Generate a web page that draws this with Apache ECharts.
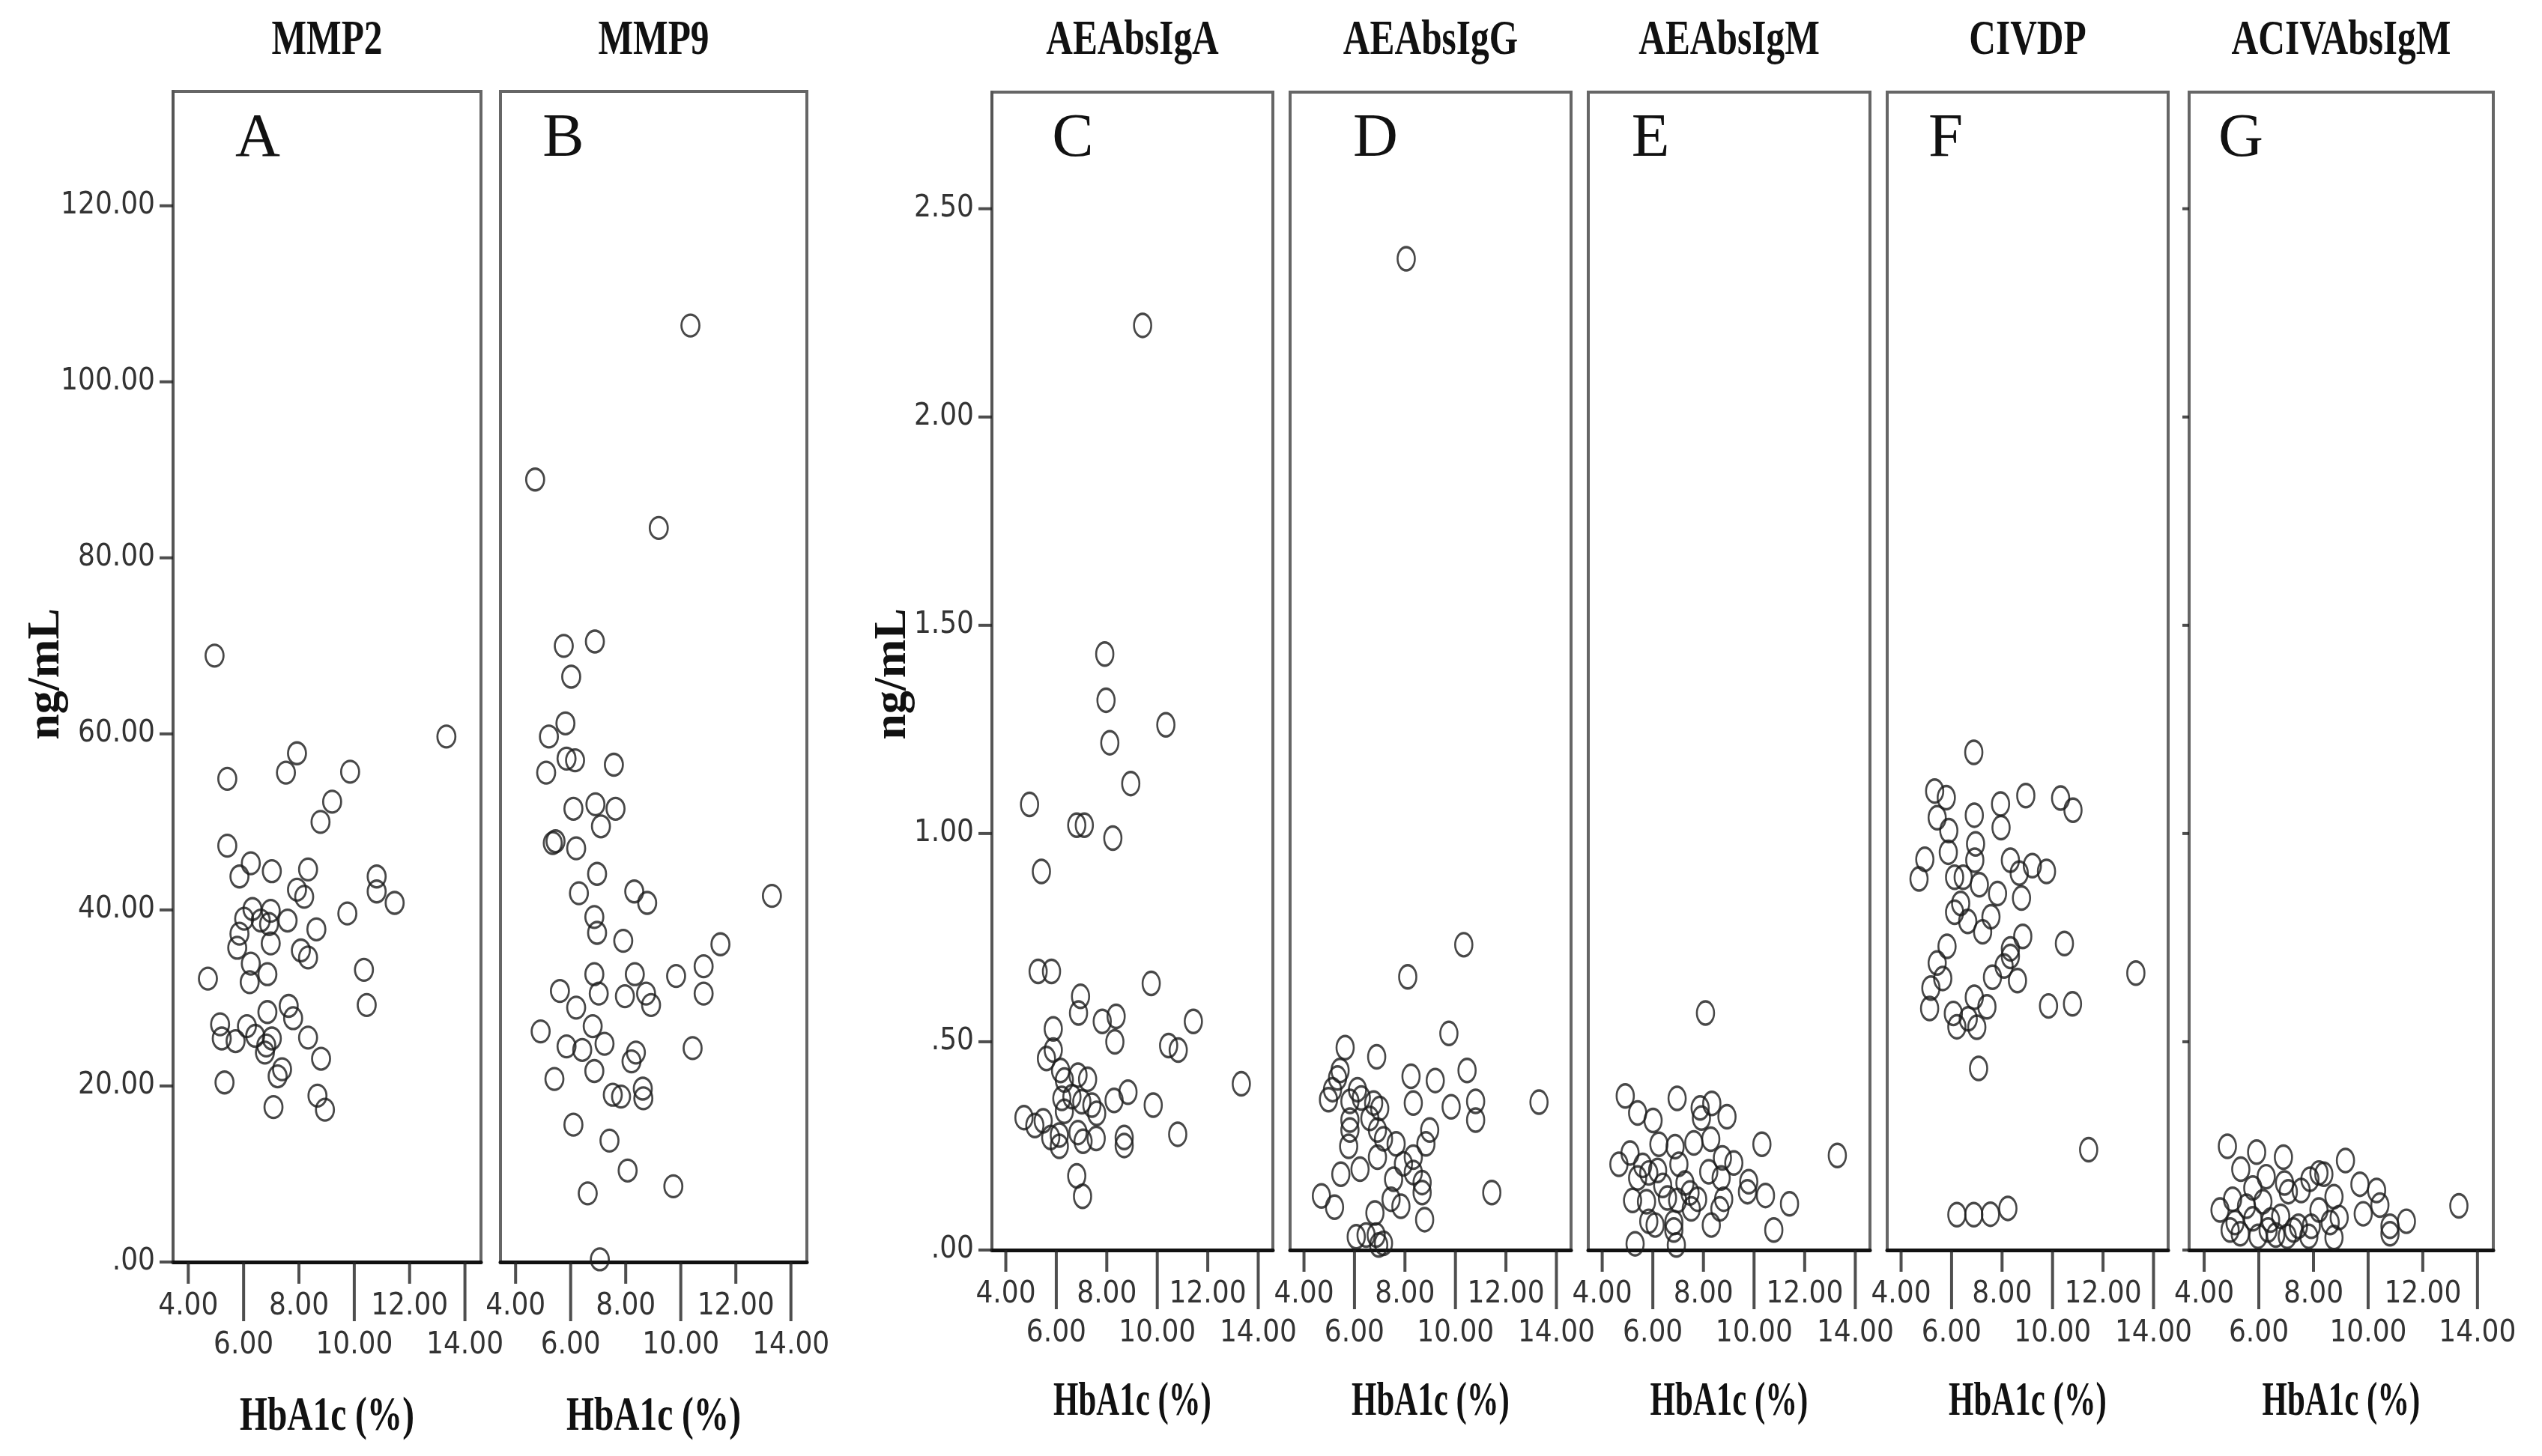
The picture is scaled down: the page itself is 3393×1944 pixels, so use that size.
<!DOCTYPE html>
<html>
<head>
<meta charset="utf-8">
<title>HbA1c scatter panels</title>
<script src="https://cdn.jsdelivr.net/npm/echarts@6/dist/echarts.min.js"></script>
<style>
html, body { margin: 0; padding: 0; background: #fff; }
#chart { width: 3393px; height: 1944px; }
</style>
</head>
<body>
<div id="chart"></div>
<script>
// tick values
var xTicksUpper = [4, 8, 12];
var xTicksLower = [6, 10, 14];
var yTicksMmp = [0, 20, 40, 60, 80, 100, 120];
var yTicksAb = [0, 0.5, 1, 1.5, 2, 2.5];

// [HbA1c, ng/mL]
var mmp2 = [[4.95,68.9],[13.33,59.7],[5.41,54.9],[7.93,57.8],[7.53,55.6],[9.85,55.7],[9.2,52.3],[8.78,50.0],[5.41,47.3],[6.26,45.3],[5.85,43.8],[7.02,44.4],[8.33,44.6],[7.93,42.3],[8.19,41.5],[10.81,43.8],[10.81,42.1],[11.46,40.8],[9.75,39.6],[6.32,40.1],[6.02,39.0],[6.62,38.8],[6.98,39.9],[6.92,38.4],[7.59,38.8],[5.85,37.3],[5.77,35.7],[6.98,36.2],[8.63,37.8],[8.07,35.4],[8.33,34.6],[6.26,33.9],[6.22,31.8],[6.86,32.7],[4.71,32.2],[10.35,33.2],[10.45,29.2],[7.63,29.1],[7.79,27.7],[6.86,28.4],[5.15,27.0],[5.21,25.4],[5.71,25.1],[6.12,26.8],[6.42,25.7],[6.82,24.6],[7.02,25.4],[6.77,23.8],[8.33,25.5],[8.8,23.1],[7.39,21.9],[7.23,21.1],[5.31,20.4],[8.67,18.9],[8.94,17.3],[7.08,17.6]];
var mmp9 = [[10.35,106.4],[4.71,88.9],[9.2,83.4],[5.75,70.0],[6.88,70.5],[6.02,66.5],[5.81,61.2],[5.21,59.7],[5.11,55.6],[5.85,57.2],[6.16,57.0],[7.57,56.5],[6.1,51.5],[6.9,52.0],[7.63,51.5],[7.1,49.5],[5.35,47.6],[5.45,47.8],[6.2,47.0],[6.96,44.1],[6.3,41.9],[8.31,42.1],[8.78,40.8],[13.31,41.6],[6.86,39.2],[6.96,37.4],[7.91,36.5],[11.44,36.1],[6.86,32.7],[8.33,32.7],[9.83,32.5],[10.83,33.6],[5.61,30.8],[7.02,30.5],[7.97,30.2],[8.74,30.5],[8.92,29.2],[10.83,30.5],[6.2,28.9],[4.91,26.2],[6.8,26.8],[7.23,24.8],[5.85,24.5],[6.42,24.1],[8.37,23.8],[8.21,22.8],[10.43,24.3],[5.41,20.8],[6.86,21.7],[7.53,19.0],[7.83,18.8],[8.62,19.7],[8.64,18.6],[6.1,15.6],[7.41,13.8],[8.07,10.4],[9.73,8.6],[6.62,7.8],[7.06,0.3]];
var aeIgA = [[9.42,2.22],[7.92,1.431],[7.97,1.32],[10.34,1.261],[8.12,1.218],[8.95,1.12],[4.94,1.07],[6.81,1.02],[7.11,1.02],[8.24,0.989],[5.41,0.909],[5.28,0.669],[5.81,0.669],[9.76,0.64],[6.96,0.609],[6.88,0.569],[7.82,0.549],[8.37,0.561],[11.43,0.549],[5.88,0.531],[8.32,0.5],[10.45,0.491],[10.83,0.48],[5.88,0.48],[5.61,0.46],[6.17,0.431],[6.32,0.408],[6.86,0.42],[7.24,0.41],[13.33,0.399],[8.84,0.379],[8.29,0.359],[9.84,0.348],[6.22,0.364],[6.62,0.368],[7.01,0.356],[7.41,0.348],[7.6,0.328],[6.32,0.333],[4.72,0.318],[5.15,0.299],[5.48,0.31],[5.78,0.27],[6.12,0.249],[6.12,0.276],[6.86,0.282],[7.06,0.261],[7.58,0.268],[8.69,0.27],[8.69,0.251],[10.81,0.278],[6.81,0.178],[7.04,0.129]];
var aeIgG = [[8.05,2.38],[10.33,0.733],[8.11,0.656],[9.74,0.52],[5.63,0.486],[6.88,0.464],[5.43,0.431],[5.33,0.413],[8.24,0.417],[9.2,0.407],[10.46,0.431],[4.97,0.361],[5.13,0.385],[6.12,0.385],[6.27,0.365],[5.82,0.357],[7.0,0.34],[6.76,0.353],[8.33,0.353],[9.83,0.344],[10.8,0.357],[10.8,0.312],[13.31,0.355],[5.82,0.312],[5.82,0.288],[6.61,0.316],[6.91,0.288],[7.15,0.267],[7.65,0.255],[8.98,0.288],[8.83,0.255],[5.77,0.249],[6.91,0.223],[8.33,0.223],[7.94,0.207],[5.46,0.182],[6.22,0.194],[8.33,0.186],[8.68,0.162],[8.68,0.138],[11.44,0.138],[7.55,0.17],[7.45,0.122],[7.84,0.105],[4.69,0.13],[5.21,0.103],[6.81,0.089],[8.78,0.073],[6.07,0.032],[6.46,0.036],[6.86,0.036],[6.96,0.012],[7.15,0.016]];
var aeIgM = [[8.08,0.569],[4.91,0.37],[6.96,0.364],[5.4,0.329],[6.01,0.311],[7.87,0.341],[8.33,0.352],[8.93,0.32],[7.92,0.317],[6.24,0.254],[6.88,0.248],[7.62,0.257],[8.29,0.266],[10.31,0.254],[13.29,0.227],[5.1,0.233],[4.66,0.206],[5.6,0.203],[5.84,0.185],[6.19,0.191],[7.03,0.206],[8.75,0.221],[9.2,0.209],[8.21,0.188],[8.7,0.173],[9.79,0.164],[9.74,0.14],[10.45,0.131],[11.4,0.111],[5.2,0.119],[5.75,0.116],[6.58,0.125],[6.98,0.119],[7.47,0.137],[7.77,0.122],[8.8,0.122],[8.65,0.099],[7.52,0.099],[5.84,0.069],[6.09,0.06],[6.83,0.066],[6.83,0.048],[8.31,0.06],[10.78,0.048],[5.3,0.015],[6.93,0.012],[6.39,0.155],[7.27,0.161],[5.4,0.173]];
var civdp = [[6.88,1.195],[5.33,1.102],[5.79,1.086],[6.9,1.044],[7.94,1.071],[8.94,1.091],[10.32,1.085],[10.81,1.056],[5.43,1.038],[5.89,1.007],[7.96,1.014],[6.95,0.975],[5.87,0.955],[6.92,0.936],[4.94,0.938],[4.71,0.891],[6.12,0.895],[6.46,0.895],[7.1,0.877],[8.33,0.936],[8.68,0.905],[9.2,0.923],[9.76,0.909],[7.82,0.856],[8.77,0.845],[6.36,0.832],[6.12,0.811],[6.64,0.789],[7.56,0.8],[7.23,0.764],[8.82,0.753],[8.33,0.723],[8.33,0.705],[8.08,0.682],[8.61,0.647],[7.62,0.655],[10.47,0.736],[13.3,0.665],[5.82,0.729],[5.43,0.689],[5.65,0.652],[5.18,0.629],[5.13,0.58],[6.07,0.568],[6.21,0.536],[6.9,0.607],[7.4,0.584],[7.0,0.535],[6.66,0.555],[9.84,0.586],[10.79,0.591],[7.07,0.436],[11.43,0.241],[6.21,0.085],[6.88,0.085],[7.54,0.086],[8.23,0.1]];
var acivIgM = [[4.85,0.249],[5.92,0.235],[6.9,0.223],[9.17,0.215],[5.34,0.194],[6.27,0.176],[6.94,0.161],[7.87,0.17],[8.2,0.185],[8.38,0.182],[9.7,0.158],[10.31,0.143],[5.78,0.149],[7.08,0.14],[7.55,0.143],[8.75,0.128],[5.04,0.122],[4.58,0.096],[10.43,0.108],[13.32,0.106],[6.15,0.116],[5.55,0.105],[8.2,0.096],[9.82,0.087],[11.4,0.069],[8.94,0.078],[8.61,0.066],[10.8,0.057],[10.8,0.039],[5.13,0.066],[5.78,0.075],[6.43,0.072],[6.8,0.081],[7.45,0.057],[7.27,0.048],[5.32,0.039],[5.97,0.033],[6.62,0.036],[7.04,0.033],[7.83,0.033],[8.75,0.03],[4.95,0.048],[6.34,0.048],[7.92,0.057]];

// panel layout: box = [left, top, width, height]
var panels = [
  {title: 'MMP2',       letter: 'A', data: mmp2,    box: [231, 122, 411, 1563],  letterX: 344,  grp: 1, yLabels: true,  yTicks: true},
  {title: 'MMP9',       letter: 'B', data: mmp9,    box: [668, 122, 409, 1563],  letterX: 752,  grp: 1, yLabels: false, yTicks: false},
  {title: 'AEAbsIgA',   letter: 'C', data: aeIgA,   box: [1324, 123, 375, 1546], letterX: 1432, grp: 2, yLabels: true,  yTicks: true},
  {title: 'AEAbsIgG',   letter: 'D', data: aeIgG,   box: [1722, 123, 375, 1546], letterX: 1836, grp: 2, yLabels: false, yTicks: false},
  {title: 'AEAbsIgM',   letter: 'E', data: aeIgM,   box: [2120, 123, 376, 1546], letterX: 2203, grp: 2, yLabels: false, yTicks: false},
  {title: 'CIVDP',      letter: 'F', data: civdp,   box: [2519, 123, 375, 1546], letterX: 2597, grp: 2, yLabels: false, yTicks: false},
  {title: 'ACIVAbsIgM', letter: 'G', data: acivIgM, box: [2922, 123, 406, 1546], letterX: 2991, grp: 2, yLabels: false, yTicks: true}
];

var X_MIN = 3.45, X_MAX = 14.58;
var narrow = '"Liberation Sans Narrow", "Arial Narrow", "DejaVu Sans Condensed", sans-serif';
var serif = '"Liberation Serif", "DejaVu Serif", serif';
var ellipse = 'path://M50,0 A50,50 0 1,1 50,100 A50,50 0 1,1 50,0 Z';
var labelFont = {fontFamily: narrow, fontSize: 40, color: '#333'};

function fmtX(v) { return v.toFixed(2); }
function fmtY(v) {
  var s = v.toFixed(2);
  return s.charAt(0) === '0' ? s.slice(1) : s;
}

// tick marks as bar-shaped scatter symbols hanging off the axis
function xTickSeries(i, values, len) {
  return {
    type: 'scatter', xAxisIndex: 2 * i, yAxisIndex: i, clip: false, silent: true, z: 3,
    data: values.map(function (v) { return [v, 0]; }),
    symbol: 'rect', symbolSize: [4, len], symbolOffset: [0, len / 2],
    itemStyle: {color: '#222', borderWidth: 0},
    emphasis: {disabled: true}
  };
}
function yTickSeries(i, values, len) {
  return {
    type: 'scatter', xAxisIndex: 2 * i, yAxisIndex: i, clip: false, silent: true, z: 3,
    data: values.map(function (v) { return [X_MIN, v]; }),
    symbol: 'rect', symbolSize: [len, 4], symbolOffset: [-len / 2, 0],
    itemStyle: {color: '#222', borderWidth: 0},
    emphasis: {disabled: true}
  };
}

var grids = [], xAxes = [], yAxes = [], series = [], tickSeries = [], texts = [];

panels.forEach(function (p, i) {
  grids.push({
    left: p.box[0], top: p.box[1], width: p.box[2], height: p.box[3],
    show: true, borderColor: '#666', borderWidth: 4
  });

  var xBase = {gridIndex: i, type: 'value', position: 'bottom', offset: 0, min: X_MIN, max: X_MAX,
    splitLine: {show: false}, axisTick: {show: false}};
  // upper row of labels (4, 8, 12) with the axis line
  xAxes.push(Object.assign({}, xBase, {
    axisLine: {show: true, onZero: false, lineStyle: {color: '#111', width: 5}},
    axisLabel: Object.assign({show: true, customValues: xTicksUpper, margin: 40, formatter: fmtX}, labelFont)
  }));
  // lower row of labels (6, 10, 14)
  xAxes.push(Object.assign({}, xBase, {
    axisLine: {show: false, onZero: false},
    axisLabel: Object.assign({show: true, customValues: xTicksLower, margin: 92, formatter: fmtX}, labelFont)
  }));

  var yt = p.grp === 1 ? yTicksMmp : yTicksAb;
  yAxes.push({
    gridIndex: i, type: 'value', position: 'left', offset: 0, min: 0, max: p.grp === 1 ? 133 : 2.78,
    splitLine: {show: false},
    axisLine: {show: p.yLabels, onZero: false, lineStyle: {color: '#555', width: 4}},
    axisTick: {show: false},
    axisLabel: p.yLabels ? Object.assign({show: true, customValues: yt, margin: 24, formatter: fmtY}, labelFont) : {show: false}
  });

  series.push({
    type: 'scatter', xAxisIndex: 2 * i, yAxisIndex: i,
    data: p.data, symbol: ellipse,
    symbolSize: p.grp === 1 ? [24, 29] : [23, 31],
    itemStyle: {color: 'rgba(0,0,0,0)', borderColor: '#1a1a1a', borderWidth: 3},
    emphasis: {disabled: true}, silent: true
  });

  tickSeries.push(xTickSeries(i, xTicksUpper, 29));
  tickSeries.push(xTickSeries(i, xTicksLower, 79));
  if (p.yTicks) tickSeries.push(yTickSeries(i, yt, p.yLabels ? 18 : 9));

  var cx = p.box[0] + p.box[2] / 2;
  // panel title
  texts.push({type: 'text', x: cx, y: 55, scaleX: 0.76, silent: true,
    style: {text: p.title, fontFamily: serif, fontWeight: 'bold', fontSize: 65, fill: '#111', align: 'center', verticalAlign: 'middle'}});
  // panel letter
  texts.push({type: 'text', x: p.letterX, y: 186, silent: true,
    style: {text: p.letter, fontFamily: serif, fontSize: 83, fill: '#111', align: 'center', verticalAlign: 'middle'}});
  // x axis title
  texts.push({type: 'text', x: cx, y: p.grp === 1 ? 1892 : 1872, scaleX: p.grp === 1 ? 0.74 : 0.67, silent: true,
    style: {text: 'HbA1c (%)', fontFamily: serif, fontWeight: 'bold', fontSize: 64, fill: '#111', align: 'center', verticalAlign: 'middle'}});
});

// y axis titles
[62, 1192].forEach(function (x) {
  texts.push({type: 'text', x: x, y: 900, rotation: Math.PI / 2, silent: true,
    style: {text: 'ng/mL', fontFamily: serif, fontWeight: 'bold', fontSize: 62, fill: '#111', align: 'center', verticalAlign: 'middle'}});
});

var chart = echarts.init(document.getElementById('chart'));
chart.setOption({
  backgroundColor: '#fff',
  animation: false,
  grid: grids,
  xAxis: xAxes,
  yAxis: yAxes,
  series: series.concat(tickSeries),
  graphic: texts
});
</script>
</body>
</html>
